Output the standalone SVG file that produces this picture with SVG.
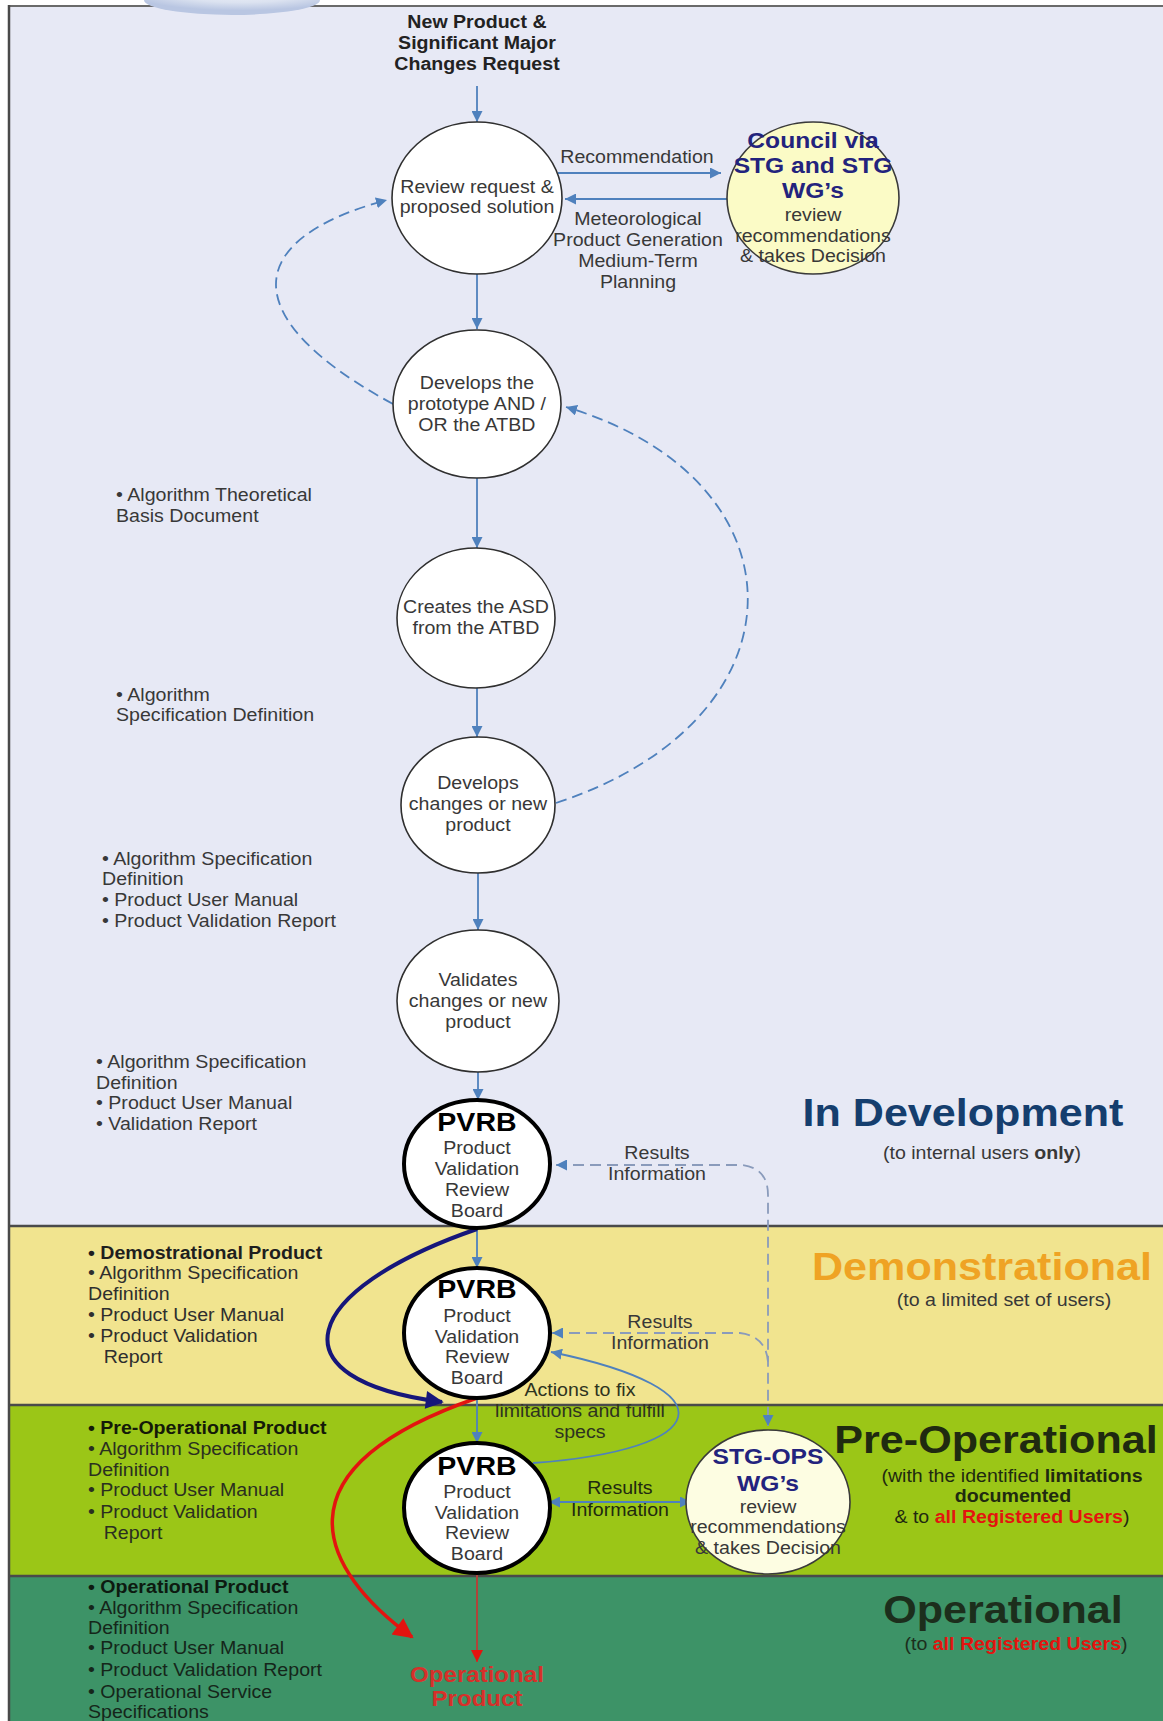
<svg xmlns="http://www.w3.org/2000/svg" width="1163" height="1721" viewBox="0 0 1163 1721">
<defs>
<radialGradient id="blob" cx="55%" cy="20%" r="65%">
<stop offset="0" stop-color="#f2f4fa"/>
<stop offset="0.6" stop-color="#dbe2f0"/>
<stop offset="1" stop-color="#b9c6e2"/>
</radialGradient>
<marker id="ab" viewBox="0 0 10 10" refX="10" refY="5" markerUnits="userSpaceOnUse" markerWidth="11" markerHeight="11" orient="auto-start-reverse">
<path d="M0,0 L10,5 L0,10 z" fill="#4F81BD"/>
</marker>
<marker id="an" viewBox="0 0 10 10" refX="9" refY="5" markerUnits="userSpaceOnUse" markerWidth="22" markerHeight="18" orient="auto">
<path d="M0,0 L10,5 L0,10 z" fill="#16167a"/>
</marker>
<marker id="ar" viewBox="0 0 10 10" refX="9" refY="5" markerUnits="userSpaceOnUse" markerWidth="24" markerHeight="20" orient="auto">
<path d="M0,0 L10,5 L0,10 z" fill="#e3140f"/>
</marker>
<marker id="ars" viewBox="0 0 10 10" refX="10" refY="5" markerUnits="userSpaceOnUse" markerWidth="14" markerHeight="12" orient="auto">
<path d="M0,0 L10,5 L0,10 z" fill="#e3140f"/>
</marker>
</defs>
<style>
text{font-family:"Liberation Sans",Arial,Helvetica,sans-serif;font-size:17.5px;fill:#383838;transform-box:fill-box;transform-origin:50% 50%;transform:scaleX(1.12);}
.c{text-anchor:middle}
.l{text-anchor:start;transform-origin:0% 50%}
.b{font-weight:bold}
.nv{fill:#23237d;font-weight:bold;font-size:22px}
.pv{fill:#000;font-weight:bold;font-size:25.5px}
.big{font-weight:bold;font-size:38.5px}
.red{fill:#e3140f;font-weight:bold}
.node{fill:#fff;stroke:#2f2f2f;stroke-width:1.6}
.pvrb{fill:#fff;stroke:#000;stroke-width:4}
.stg{stroke:#3a3a3a;stroke-width:1.6}
.cn{fill:none;stroke:#4F81BD;stroke-width:1.8}
.dash{stroke-dasharray:11 6}
.rd{fill:none;stroke:#8a9bbb;stroke-width:1.8;stroke-dasharray:11 6}
.sep{stroke:#4a4a4a;stroke-width:2.5}
</style>

<g id="background">
<rect x="0" y="0" width="1163" height="1721" fill="#fff"/>
<rect x="9" y="6" width="1154" height="1220" fill="#E7E9F5"/>
<rect x="9" y="1226" width="1154" height="179" fill="#F1E48F"/>
<rect x="9" y="1405" width="1154" height="171" fill="#9BC617"/>
<rect x="9" y="1576" width="1154" height="145" fill="#3D9367"/>
<line x1="8" y1="6" x2="1163" y2="6" stroke="#6a6a6a" stroke-width="2.2"/>
<line x1="9" y1="5" x2="9" y2="1721" stroke="#4a4a4a" stroke-width="2.5"/>
<line class="sep" x1="9" y1="1226" x2="1163" y2="1226"/>
<line class="sep" x1="9" y1="1405" x2="1163" y2="1405"/>
<line class="sep" x1="9" y1="1576" x2="1163" y2="1576"/>
<ellipse cx="232" cy="0" rx="88" ry="15" fill="url(#blob)"/>
</g>

<g id="stage-labels">
<text class="c big" x="963" y="1126" style="fill:#153e6e">In Development</text>
<text class="c" x="982" y="1159">(to internal users <tspan class="b">only</tspan>)</text>
<text class="c big" x="982" y="1280" style="fill:#efa324">Demonstrational</text>
<text class="c" x="1004" y="1306">(to a limited set of users)</text>
<text class="c big" x="996" y="1453" style="fill:#1f2a10">Pre-Operational</text>
<text class="c" x="1012" y="1482" style="fill:#1f2a10">(with the identified <tspan class="b">limitations</tspan></text>
<text class="c b" x="1013" y="1502" style="fill:#1f2a10">documented</text>
<text class="c" x="1012" y="1523" style="fill:#1f2a10">&amp; to <tspan class="red">all Registered  Users</tspan>)</text>
<text class="c big" x="1003" y="1623" style="fill:#1c2e1c">Operational</text>
<text class="c" x="1016" y="1650" style="fill:#1c2e1c">(to <tspan class="red">all Registered  Users</tspan>)</text>
</g>

<g id="document-lists">
<text class="l" x="116" y="501">• Algorithm Theoretical<tspan x="116" y="522">Basis Document</tspan></text>
<text class="l" x="116" y="701">• Algorithm<tspan x="116" y="721">Specification Definition</tspan></text>
<text class="l" x="102" y="865">• Algorithm Specification<tspan x="102" y="885">Definition</tspan><tspan x="102" y="906">• Product User Manual</tspan><tspan x="102" y="927">• Product Validation Report</tspan></text>
<text class="l" x="96" y="1068">• Algorithm Specification<tspan x="96" y="1089">Definition</tspan><tspan x="96" y="1109">• Product User Manual</tspan><tspan x="96" y="1130">• Validation Report</tspan></text>
<text class="l" x="88" y="1259" style="fill:#2e2e2e"><tspan class="b" style="fill:#1e1e1e">• Demostrational Product</tspan><tspan x="88" y="1279">• Algorithm Specification</tspan><tspan x="88" y="1300">Definition</tspan><tspan x="88" y="1321">• Product User Manual</tspan><tspan x="88" y="1342">• Product Validation</tspan><tspan x="102" y="1363">Report</tspan></text>
<text class="l" x="88" y="1434" style="fill:#2a2f20"><tspan class="b" style="fill:#141a08">• Pre-Operational Product</tspan><tspan x="88" y="1455">• Algorithm Specification</tspan><tspan x="88" y="1476">Definition</tspan><tspan x="88" y="1496">• Product User Manual</tspan><tspan x="88" y="1518">• Product Validation</tspan><tspan x="102" y="1539">Report</tspan></text>
<text class="l" x="88" y="1593" style="fill:#15261a"><tspan class="b" style="fill:#0d1a10">• Operational Product</tspan><tspan x="88" y="1614">• Algorithm Specification</tspan><tspan x="88" y="1634">Definition</tspan><tspan x="88" y="1654">• Product User Manual</tspan><tspan x="88" y="1676">• Product Validation Report</tspan><tspan x="88" y="1698">• Operational Service</tspan><tspan x="88" y="1718">Specifications</tspan></text>
</g>

<g id="connectors">
<path class="cn" d="M477 86 V122" marker-end="url(#ab)"/>
<path class="cn" d="M477 274 V329" marker-end="url(#ab)"/>
<path class="cn" d="M477 478 V548" marker-end="url(#ab)"/>
<path class="cn" d="M477 688 V737" marker-end="url(#ab)"/>
<path class="cn" d="M478 873 V930" marker-end="url(#ab)"/>
<path class="cn" d="M478 1072 V1100" marker-end="url(#ab)"/>
<path class="cn" d="M477 1228 V1268" marker-end="url(#ab)"/>
<path class="cn" d="M477 1398 V1443" marker-end="url(#ab)"/>
<path class="cn" d="M558 173 H721" marker-end="url(#ab)"/>
<path class="cn" d="M730 199 H565" marker-end="url(#ab)"/>
<path class="cn dash" d="M393 404 C238 320 238 240 387 200" marker-end="url(#ab)"/>
<path class="cn dash" d="M556 803 C810 720 810 480 566 407" marker-end="url(#ab)"/>
<path class="rd" d="M556 1165 H742 Q768 1168 768 1195 V1426" marker-start="url(#ab)" marker-end="url(#ab)"/>
<path class="rd" d="M552 1333 H740 Q766 1336 768 1362" marker-start="url(#ab)"/>
<path class="cn" d="M533 1463 C712 1450 735 1390 551 1352" marker-end="url(#ab)"/>
<path class="cn" d="M549 1502 H691" marker-start="url(#ab)" marker-end="url(#ab)"/>
<path d="M477 1229 C300 1290 270 1380 442 1402" fill="none" stroke="#16167a" stroke-width="4" marker-end="url(#an)"/>
<path d="M477 1398 C270 1470 320 1570 412 1637" fill="none" stroke="#e3140f" stroke-width="3.5" marker-end="url(#ar)"/>
<path d="M477 1573 V1662" fill="none" stroke="#b0443a" stroke-width="2" marker-end="url(#ars)"/>
</g>

<g id="connector-labels">
<text class="c" x="637" y="163">Recommendation</text>
<text class="c" x="638" y="225">Meteorological<tspan x="638" y="246">Product Generation</tspan><tspan x="638" y="267">Medium-Term</tspan><tspan x="638" y="288">Planning</tspan></text>
<text class="c" x="657" y="1159">Results<tspan x="657" y="1180">Information</tspan></text>
<text class="c" x="660" y="1328">Results<tspan x="660" y="1349">Information</tspan></text>
<text class="c" x="580" y="1396" style="fill:#2e3320">Actions to fix<tspan x="580" y="1417">limitations and fulfill</tspan><tspan x="580" y="1438">specs</tspan></text>
<text class="c" x="620" y="1494" style="fill:#1f2a10">Results<tspan x="620" y="1516">Information</tspan></text>
</g>

<g id="node-request">
<text class="c b" x="477" y="28" style="fill:#222">New Product &amp;<tspan x="477" y="49">Significant Major</tspan><tspan x="477" y="70">Changes Request</tspan></text>
</g>

<g id="node-review">
<ellipse class="node" cx="477" cy="198" rx="85" ry="76"/>
<text class="c" x="477" y="193">Review request &amp;<tspan x="477" y="213">proposed solution</tspan></text>
</g>

<g id="node-council">
<ellipse class="stg" cx="813" cy="198" rx="86" ry="76" fill="#FBFBC6"/>
<text class="c nv" x="813" y="148">Council via<tspan x="813" y="173">STG and STG</tspan><tspan x="813" y="198">WG’s</tspan></text>
<text class="c" x="813" y="221">review<tspan x="813" y="242">recommendations</tspan><tspan x="813" y="262">&amp; takes Decision</tspan></text>
</g>

<g id="node-prototype">
<ellipse class="node" cx="477" cy="404" rx="84" ry="74"/>
<text class="c" x="477" y="389">Develops the<tspan x="477" y="410">prototype AND /</tspan><tspan x="477" y="431">OR the ATBD</tspan></text>
</g>

<g id="node-asd">
<ellipse class="node" cx="476" cy="618" rx="79" ry="70"/>
<text class="c" x="476" y="613">Creates the ASD<tspan x="476" y="634">from the ATBD</tspan></text>
</g>

<g id="node-develops">
<ellipse class="node" cx="478" cy="805" rx="77" ry="68"/>
<text class="c" x="478" y="789">Develops<tspan x="478" y="810">changes or new</tspan><tspan x="478" y="831">product</tspan></text>
</g>

<g id="node-validates">
<ellipse class="node" cx="478" cy="1001" rx="81" ry="71"/>
<text class="c" x="478" y="986">Validates<tspan x="478" y="1007">changes or new</tspan><tspan x="478" y="1028">product</tspan></text>
</g>

<g id="node-pvrb1">
<ellipse class="pvrb" cx="477" cy="1164" rx="73" ry="64"/>
<text class="c pv" x="477" y="1131">PVRB</text>
<text class="c" x="477" y="1154">Product<tspan x="477" y="1175">Validation</tspan><tspan x="477" y="1196">Review</tspan><tspan x="477" y="1217">Board</tspan></text>
</g>

<g id="node-pvrb2">
<ellipse class="pvrb" cx="477" cy="1333" rx="73" ry="65"/>
<text class="c pv" x="477" y="1298">PVRB</text>
<text class="c" x="477" y="1322">Product<tspan x="477" y="1343">Validation</tspan><tspan x="477" y="1363">Review</tspan><tspan x="477" y="1384">Board</tspan></text>
</g>

<g id="node-pvrb3">
<ellipse class="pvrb" cx="477" cy="1508" rx="73" ry="65"/>
<text class="c pv" x="477" y="1475">PVRB</text>
<text class="c" x="477" y="1498">Product<tspan x="477" y="1519">Validation</tspan><tspan x="477" y="1539">Review</tspan><tspan x="477" y="1560">Board</tspan></text>
</g>

<g id="node-stgops">
<ellipse class="stg" cx="768" cy="1502" rx="82" ry="72" fill="#FDFDE2"/>
<text class="c nv" x="768" y="1464">STG-OPS<tspan x="768" y="1491">WG’s</tspan></text>
<text class="c" x="768" y="1513">review<tspan x="768" y="1533">recommendations</tspan><tspan x="768" y="1554">&amp; takes Decision</tspan></text>
</g>

<g id="node-operational-product">
<text class="c red" x="477" y="1682" style="font-size:21.5px;fill:#d6302a">Operational<tspan x="477" y="1706">Product</tspan></text>
</g>
</svg>
